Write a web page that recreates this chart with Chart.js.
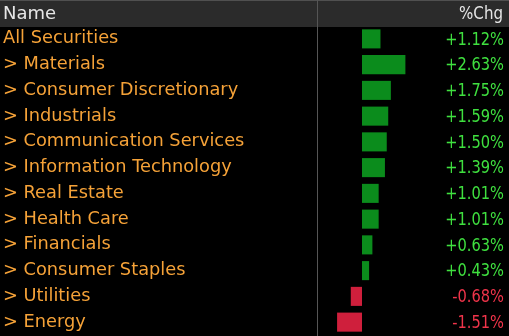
<!DOCTYPE html>
<html>
<head>
<meta charset="utf-8">
<script src="https://cdn.jsdelivr.net/npm/chart.js@4.4.0/dist/chart.umd.min.js"></script>
<style>
  html, body { margin: 0; padding: 0; background: #000; }
  #wrap { width: 509px; height: 336px; position: relative; }
</style>
</head>
<body>
<div id="wrap"><canvas id="sector-chart"></canvas></div>
<script>
const sectorNames = ["All Securities", "> Materials", "> Consumer Discretionary", "> Industrials",
  "> Communication Services", "> Information Technology", "> Real Estate", "> Health Care",
  "> Financials", "> Consumer Staples", "> Utilities", "> Energy"]
const pctChange = [1.12, 2.63, 1.75, 1.59, 1.50, 1.39, 1.01, 1.01, 0.63, 0.43, -0.68, -1.51]
const headerLabels = ["Name", "%Chg"]

const NAME_FONT = "'DejaVu Sans', sans-serif"
const NUM_FONT = "'DejaVu Sans Condensed', 'DejaVu Sans', sans-serif"
const GREEN_BAR = "#0b8c1c", RED_BAR = "#cf1f3c"
const GREEN_TXT = "#3fe03f", RED_TXT = "#f0344a"

// right column text is narrower than the names, squeeze it a bit
function narrowText(ctx, text, xRight, y, sx) {
  ctx.save()
  ctx.translate(xRight, y)
  ctx.scale(sx, 1)
  ctx.textAlign = "right"
  ctx.fillText(text, 0, 0)
  ctx.restore()
}

// header strip, divider line and the %Chg column text
const tablePlugin = {
  id: "table",
  beforeDraw(chart) {
    const ctx = chart.ctx
    ctx.save()
    ctx.fillStyle = "#000"
    ctx.fillRect(0, 0, chart.width, chart.height)
    ctx.fillStyle = "#2b2b2b"
    ctx.fillRect(0, 0, chart.width, 27)
    ctx.fillStyle = "#505050"
    ctx.fillRect(0, 0, chart.width, 1)
    ctx.fillStyle = "#555"
    ctx.fillRect(317, 0, 1, chart.height)
    ctx.fillStyle = "#e6e6e6"
    ctx.textBaseline = "middle"
    ctx.textAlign = "left"
    ctx.font = "18px " + NAME_FONT
    ctx.fillText(headerLabels[0], 3, 14)
    ctx.font = "18px " + NUM_FONT
    narrowText(ctx, headerLabels[1], 503, 14, 0.93)
    ctx.restore()
  },
  afterDatasetsDraw(chart) {
    const ctx = chart.ctx
    const yScale = chart.scales.y
    ctx.save()
    ctx.font = "18.5px " + NUM_FONT
    ctx.textBaseline = "middle"
    pctChange.forEach((v, i) => {
      ctx.fillStyle = v >= 0 ? GREEN_TXT : RED_TXT
      narrowText(ctx, (v >= 0 ? "+" : "") + v.toFixed(2) + "%", 504, yScale.getPixelForValue(i) + 1, 0.88)
    })
    ctx.restore()
  }
}

new Chart("sector-chart", {
  type: "bar",
  data: {
    labels: sectorNames,
    datasets: [{
      data: pctChange,
      backgroundColor: pctChange.map(v => v >= 0 ? GREEN_BAR : RED_BAR),
      borderWidth: 0,
      barPercentage: 0.74,
      categoryPercentage: 1
    }]
  },
  options: {
    indexAxis: "y",
    responsive: true,
    maintainAspectRatio: false,
    animation: false,
    layout: { padding: { top: 26, right: 69, left: 3, bottom: 1 } },
    plugins: { legend: { display: false }, tooltip: { enabled: false } },
    scales: {
      x: {
        display: false,
        min: -44 / 16.5,
        max: 78 / 16.5
      },
      y: {
        afterFit(scale) {
          scale.width = 315
          scale.paddingTop = 0
          scale.paddingBottom = 0
        },
        grid: { display: false },
        border: { display: false },
        ticks: {
          color: "#f5a238",
          font: { family: NAME_FONT, size: 17.8 },
          crossAlign: "far",
          padding: 0,
          autoSkip: false
        }
      }
    }
  },
  plugins: [tablePlugin]
})
</script>
</body>
</html>
